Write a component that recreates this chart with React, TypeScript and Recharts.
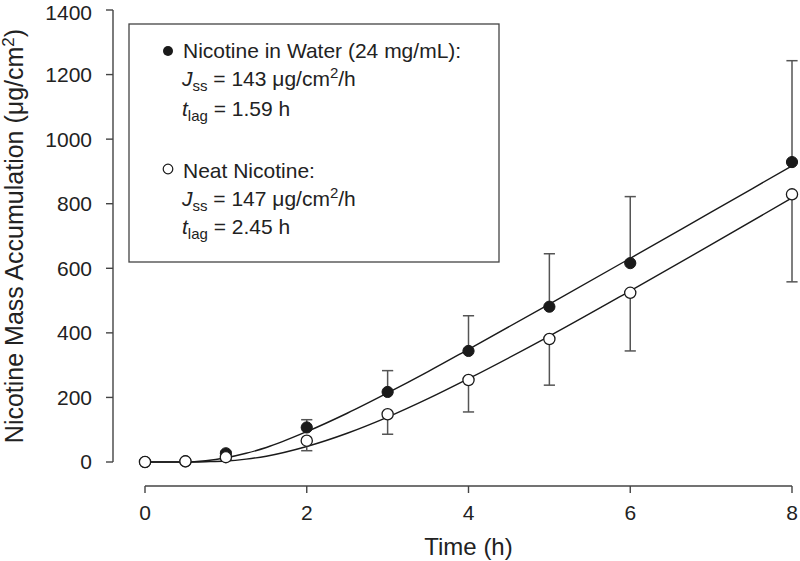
import React from 'react'
import { ComposedChart, Line, Scatter, ErrorBar, XAxis, YAxis } from 'recharts'

// measured time points (h)
const time = [0, 0.5, 1, 2, 3, 4, 5, 6, 8]
// nicotine in water (24 mg/mL): mean and upper SD
const waterMean = [0, 2, 27, 107, 217, 344, 481, 616, 929]
const waterSdUp = [0, 0, 6, 24, 66, 109, 164, 206, 314]
// neat nicotine: mean and lower SD
const neatMean = [0, 2, 15, 66, 148, 254, 381, 524, 829]
const neatSdDown = [0, 0, 8, 31, 62, 99, 143, 180, 271]

// fitted curves
const fitTime = [0, 0.5, 0.75, 1, 1.25, 1.5, 2, 2.5, 3, 3.5, 4, 5, 6, 7, 8]
const waterFit = [0, 0, 4, 13, 27, 45, 94, 151, 214, 280, 349, 489, 631, 774, 917]
const neatFit = [0, 0, 1, 3, 9, 18, 48, 89, 139, 196, 258, 390, 530, 673, 818]

const xTicks = [0, 2, 4, 6, 8]
const yTicks = [0, 200, 400, 600, 800, 1000, 1200, 1400]

const waterPts = time.map((t, i) => ({ t, q: waterMean[i], err: [0, waterSdUp[i]] }))
const neatPts = time.map((t, i) => ({ t, q: neatMean[i], err: [neatSdDown[i], 0] }))
const waterCurve = fitTime.map((t, i) => ({ t, q: waterFit[i] }))
const neatCurve = fitTime.map((t, i) => ({ t, q: neatFit[i] }))

const INK = '#1a1a1a'
const AXIS = '#444'
const FONT = '"Liberation Sans", Arial, Helvetica, sans-serif'

const FilledDot = (p: any) => <circle cx={p.cx} cy={p.cy} r={5.6} fill={INK} stroke={INK} strokeWidth={1} />
const OpenDot = (p: any) => <circle cx={p.cx} cy={p.cy} r={5.6} fill="#fff" stroke={INK} strokeWidth={1.3} />

const YTitle = (props: any) => {
  const vb = props.viewBox || { x: 0, y: 10, width: 113, height: 452 }
  const cx = vb.x + 23
  const cy = vb.y + vb.height / 2
  return (
    <text x={cx} y={cy} transform={`rotate(-90, ${cx}, ${cy})`} textAnchor="middle" fontSize={25} fill="#222" fontFamily={FONT}>
      Nicotine Mass Accumulation (μg/cm<tspan dy={-9} fontSize={17}>2</tspan><tspan dy={9}>)</tspan>
    </text>
  )
}

const XTitle = (props: any) => {
  const vb = props.viewBox || { x: 145, y: 486, width: 647, height: 75 }
  return (
    <text x={vb.x + vb.width / 2} y={vb.y + 69} textAnchor="middle" fontSize={24} fill="#222" fontFamily={FONT}>
      Time (h)
    </text>
  )
}

function Legend() {
  const fs = 21
  const sub = 15
  return (
    <svg width={800} height={561} style={{ position: 'absolute', left: 0, top: 0, pointerEvents: 'none' }}>
      <rect x={129} y={24} width={370} height={238} fill="#fff" stroke={AXIS} strokeWidth={1.3} />
      <g fontFamily={FONT} fontSize={fs} fill="#222">
        <circle cx={168} cy={51} r={5} fill={INK} />
        <text x={183} y={58}>Nicotine in Water (24 mg/mL):</text>
        <text x={182} y={86}>
          <tspan fontStyle="italic">J</tspan>
          <tspan fontSize={sub} dy={5}>ss</tspan>
          <tspan dy={-5}> = 143 μg/cm</tspan>
          <tspan fontSize={sub} dy={-8}>2</tspan>
          <tspan dy={8}>/h</tspan>
        </text>
        <text x={182} y={116}>
          <tspan fontStyle="italic">t</tspan>
          <tspan fontSize={sub} dy={5}>lag</tspan>
          <tspan dy={-5}> = 1.59 h</tspan>
        </text>

        <circle cx={168} cy={169} r={4.8} fill="#fff" stroke={INK} strokeWidth={1.2} />
        <text x={183} y={178}>Neat Nicotine:</text>
        <text x={182} y={206}>
          <tspan fontStyle="italic">J</tspan>
          <tspan fontSize={sub} dy={5}>ss</tspan>
          <tspan dy={-5}> = 147 μg/cm</tspan>
          <tspan fontSize={sub} dy={-8}>2</tspan>
          <tspan dy={8}>/h</tspan>
        </text>
        <text x={182} y={234}>
          <tspan fontStyle="italic">t</tspan>
          <tspan fontSize={sub} dy={5}>lag</tspan>
          <tspan dy={-5}> = 2.45 h</tspan>
        </text>
      </g>
    </svg>
  )
}

export default function App() {
  const tick = { fill: '#222', fontSize: 21, fontFamily: FONT }
  return (
    <div style={{ position: 'absolute', left: 0, top: 0, width: 800, height: 561, background: '#fff', fontFamily: FONT }}>
      <ComposedChart width={800} height={561} margin={{ top: 10, right: 8, left: 0, bottom: 0 }}>
        {/* spacer axes: series are drawn on these, the visible axes sit further out */}
        <XAxis xAxisId="p" dataKey="t" type="number" domain={[0, 8]} height={24} axisLine={false} tickLine={false} tick={false} />
        <XAxis
          xAxisId="v"
          dataKey="t"
          type="number"
          domain={[0, 8]}
          ticks={xTicks}
          allowDataOverflow
          height={75}
          stroke={AXIS}
          axisLine={{ stroke: AXIS, strokeWidth: 1.4 }}
          tickLine={{ stroke: AXIS, strokeWidth: 1.4 }}
          tickSize={7}
          tickMargin={12}
          tick={tick}
          label={<XTitle />}
        />
        <YAxis yAxisId="p" type="number" domain={[0, 1400]} width={32} axisLine={false} tickLine={false} tick={false} />
        <YAxis
          yAxisId="v"
          type="number"
          domain={[0, 1400]}
          ticks={yTicks}
          allowDataOverflow
          width={113}
          stroke={AXIS}
          axisLine={{ stroke: AXIS, strokeWidth: 1.4 }}
          tickLine={{ stroke: AXIS, strokeWidth: 1.4 }}
          tickSize={7}
          tickMargin={14}
          tick={tick}
          label={<YTitle />}
        />

        <Line xAxisId="p" yAxisId="p" data={waterCurve} dataKey="q" type="monotone" stroke={INK} strokeWidth={1.4} dot={false} isAnimationActive={false} />
        <Line xAxisId="p" yAxisId="p" data={neatCurve} dataKey="q" type="monotone" stroke={INK} strokeWidth={1.4} dot={false} isAnimationActive={false} />

        <Scatter xAxisId="p" yAxisId="p" data={waterPts} dataKey="q" shape={FilledDot} isAnimationActive={false}>
          <ErrorBar dataKey="err" direction="y" width={5.6} stroke="#555" strokeWidth={1.5} isAnimationActive={false} />
        </Scatter>
        <Scatter xAxisId="p" yAxisId="p" data={neatPts} dataKey="q" shape={OpenDot} isAnimationActive={false}>
          <ErrorBar dataKey="err" direction="y" width={5.6} stroke="#555" strokeWidth={1.5} isAnimationActive={false} />
        </Scatter>
      </ComposedChart>
      <Legend />
    </div>
  )
}
